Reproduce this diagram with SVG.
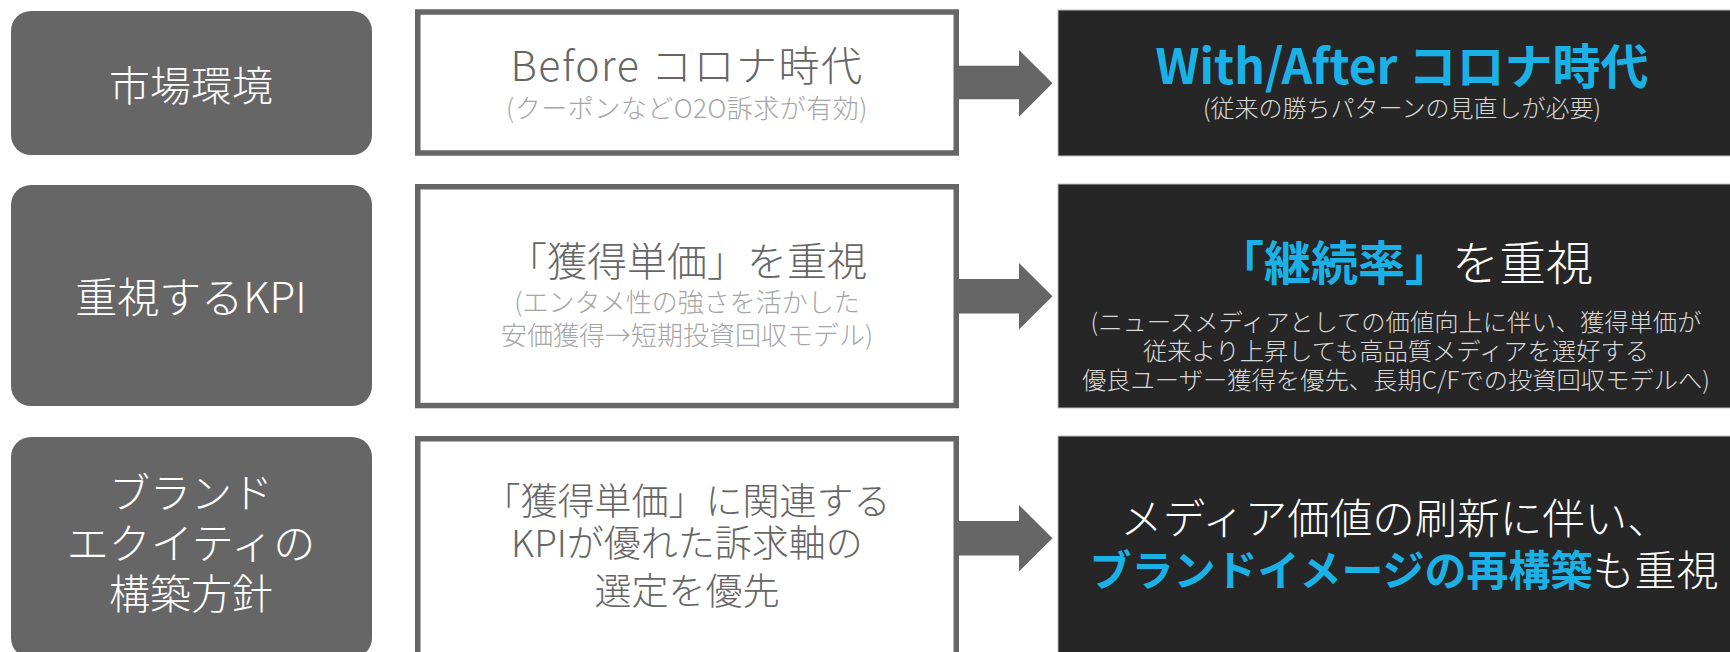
<svg xmlns="http://www.w3.org/2000/svg" width="1730" height="652" viewBox="0 0 1730 652">
<style>
.lbox{fill:#666666;}
.mbox{fill:#ffffff;stroke:#666666;stroke-width:5.5;}
.dbox{fill:#262626;stroke:#bdbdbd;stroke-width:1;}
.arrow{fill:#666666;}
text{font-family:"Noto Sans CJK JP Light","Noto Sans CJK JP","Noto Sans",sans-serif;text-anchor:middle;dominant-baseline:central;font-weight:300;}
.lt{fill:#ffffff;font-size:41px;}
.mt{fill:#666666;font-size:40px;}
.ms{fill:#a6a6a6;font-size:26px;}
.rt{fill:#ffffff;font-size:47px;}
.rs{fill:#d9d9d9;font-size:24px;}
.blue{fill:#1ab2e6;font-weight:700;font-family:"Noto Sans CJK JP","Noto Sans",sans-serif;}
</style>
<rect width="1730" height="652" fill="#ffffff"/>

<g id="row1-label">
<rect class="lbox" x="11" y="11" width="361" height="144" rx="20"/>
<text class="lt" x="191" y="83">市場環境</text>
</g>
<g id="row1-before">
<rect class="mbox" x="417.75" y="12" width="538.5" height="141"/>
<text class="mt" x="687" y="63" style="font-size:41px;letter-spacing:1.5px">Before コロナ時代</text>
<text class="ms" x="687" y="106" style="letter-spacing:0.5px">(クーポンなどO2O訴求が有効)</text>
</g>
<g id="row1-after">
<rect class="dbox" x="1058" y="10" width="680" height="146"/>
<text class="rt" x="1402" y="63" style="font-size:48px"><tspan class="blue">With/After コロナ時代</tspan></text>
<text class="rs" x="1402" y="106">(従来の勝ちパターンの見直しが必要)</text>
</g>

<g id="row2-label">
<rect class="lbox" x="11" y="185" width="361" height="221" rx="20"/>
<text class="lt" x="191" y="294" style="font-size:42px">重視するKPI</text>
</g>
<g id="row2-before">
<rect class="mbox" x="417.75" y="186.75" width="538.5" height="218.8"/>
<text class="mt" x="687" y="259">「獲得単価」を重視</text>
<text class="ms" x="687" y="300">(エンタメ性の強さを活かした</text>
<text class="ms" x="687" y="333">安価獲得→短期投資回収モデル)</text>
</g>
<g id="row2-after">
<rect class="dbox" x="1058" y="184" width="680" height="224"/>
<text class="rt" x="1405" y="259"><tspan class="blue">「継続率」</tspan>を重視</text>
<text class="rs" x="1396" y="320" style="font-size:24.3px">(ニュースメディアとしての価値向上に伴い、獲得単価が</text>
<text class="rs" x="1396" y="349" style="font-size:24.3px">従来より上昇しても高品質メディアを選好する</text>
<text class="rs" x="1396" y="378" style="font-size:24.3px">優良ユーザー獲得を優先、長期C/Fでの投資回収モデルへ)</text>
</g>

<g id="row3-label">
<rect class="lbox" x="11" y="437" width="361" height="221" rx="20"/>
<text class="lt" x="191" y="490">ブランド</text>
<text class="lt" x="191" y="540" style="font-size:42px">エクイティの</text>
<text class="lt" x="191" y="591">構築方針</text>
</g>
<g id="row3-before">
<rect class="mbox" x="417.75" y="438.75" width="538.5" height="220"/>
<text class="mt" x="687" y="499" style="font-size:37px">「獲得単価」に関連する</text>
<text class="mt" x="687" y="541" style="font-size:37px">KPIが優れた訴求軸の</text>
<text class="mt" x="687" y="589" style="font-size:37px">選定を優先</text>
</g>
<g id="row3-after">
<rect class="dbox" x="1058" y="436" width="680" height="224"/>
<text class="rt" x="1395" y="515" style="font-size:42.5px">メディア価値の刷新に伴い、</text>
<text class="rt" x="1404" y="567" style="font-size:42px"><tspan class="blue">ブランドイメージの再構築</tspan>も重視</text>
</g>

<g id="connectors">
<polygon class="arrow" points="959,65.7 1019,65.7 1019,50 1052.5,83.3 1019,116.7 1019,99.3 959,99.3"/>
<polygon class="arrow" points="959,279 1019,279 1019,263 1052.5,296.3 1019,329.6 1019,313.6 959,313.6"/>
<polygon class="arrow" points="959,521 1019,521 1019,505 1052.5,538.3 1019,571.6 1019,555.6 959,555.6"/>
</g>
</svg>
